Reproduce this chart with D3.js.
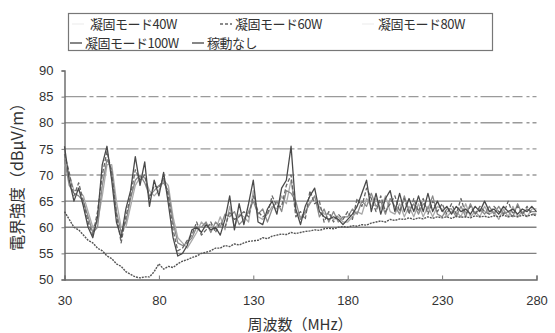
<!DOCTYPE html>
<html><head><meta charset="utf-8">
<script src="https://cdn.jsdelivr.net/npm/d3@7"></script>
<style>
html,body{margin:0;padding:0;background:#fff;}
svg{display:block;}
text{font-family:"Noto Sans CJK JP","Noto Sans",sans-serif;fill:#333;}
</style></head>
<body><svg id="c" width="555" height="333"></svg>
<script>
// frequency sample points (MHz)
const freqs = d3.range(30, 280.01, 2.5);
const yTicks = [50,55,60,65,70,75,80,85,90];
const xTicks = [30,80,130,180,230,280];
const seriesNames = ["凝固モード40W","凝固モード60W","凝固モード80W","凝固モード100W","稼動なし"];

const s40 = [73,68,66.5,66,65,62,59,60,68,73,
 71,63,59,61,65.5,69,70,68.5,66,67,
 68,68.5,67,61,57,56.5,57,58,60,60,
 61,59,61,60,62.5,62,63,60.5,61.5,63,
 65,62.5,63.5,61,63.5,65,63,67,66.5,65,
 61.5,63,64.5,66,62,63.5,61,63,61,62,
 62,63.5,62.5,65,64,66.5,64,65,62.5,65.5,
 64,62.5,66,63,64.5,62.5,64.5,63.5,66,62.5,
 62,63.5,63.5,62,64,62,64.5,62.5,63.5,62.5,
 64,62.5,64,62.5,63,62,64.5,62.5,63.5,63,
 63];
const s60 = [74,70.5,66,68.5,65,61,58.5,63,70,74.5,
 70.5,62.5,57,62,66,71,69,70,65.5,68,
 67.5,69.5,66,59.5,55.5,56,57.5,58.5,61,58.5,
 59.5,61,59,61,60,63,61.5,62,63,62,
 66,63,62,62.5,66,64,64,68,70,62,
 63,61.5,67,64.5,65,61,63,61,62.5,61.5,
 63,61.5,65.5,64,67.5,65.5,63,66,63,64.5,
 66,63,65.5,62.5,65.5,63,65.5,62.5,65,63,
 64.5,62.5,64.5,62.5,65.5,62.5,64,62.5,64,63,
 62.5,64,63,62.5,65,62.5,64,62.5,64,62.5,
 62.5];
const s80 = [72,70,67,67,66,63,60,61,66,72,
 72,65,60,60,64,68,69.5,69.5,67,66,
 67,69,68,62,58,57,56,57.5,59,61,
 60,60.5,59.5,62,59.5,64,60,62.5,62,61,
 67,62,61.5,62.5,64,63.5,66,64.5,69,63,
 62,62.5,65,65,64,62.5,62.5,61.5,62,61,
 61,62,63,62.5,65.5,64,65.5,63.5,66,63,
 62.5,64.5,62,64,62,64.5,62,64,62,64,
 63.5,62,63,63,62,64.5,62,63,62,64,
 62.5,63,61.5,63.5,62,64,62,63,62,63.5,
 63.5];
const s100 = [75.5,69,65,67.5,64,60,58,62,72,75.5,
 69,61,58,63.5,67,73.5,68,72.5,64,69,
 66,70.5,64.5,58,54.5,55,56.5,59.5,60,59,
 60.5,59.5,60,58.5,61.5,66,59.5,64.5,60.5,64.5,
 69,61,60.5,63.5,65,62.5,67.5,69,75.5,63.5,
 60.5,64,66,67.5,63,62,61.5,62,61.5,60.5,
 61.5,62.5,64,66.5,69,63,66.5,62.5,65.5,67,
 63,66.5,63,65.5,63,66,63,66.5,63,65,
 63,64,62.5,64,63,63.5,62.5,64,63,65,
 63,63.5,62.5,64,63,63.5,62.5,63.5,63,64,
 63];
const sOff = [63,61.5,60,59.5,58.5,57.5,57,56,55.5,54.5,
 54,53,52.5,51.5,51,50.5,50.3,50.5,50.5,51.5,
 53,52,52.5,52.3,53,53.5,53.8,54.2,54.5,55,
 55.2,55.5,56,56,56.5,56.3,56.8,56.6,57,57.3,
 57.4,57.5,58,57.8,58.3,58.5,58.7,58.6,59,58.8,
 59,59.2,59.3,59.5,59.4,59.7,59.8,59.7,60,60.1,
 60,60.3,60.2,60.5,60.4,60.8,61,61.2,61,61.5,
 61.3,61.6,61.5,61.8,61.5,61.8,61.6,62,61.7,62,
 61.8,62,61.7,62.1,61.9,62,61.8,62.2,62,62.1,
 61.9,62.2,62,62.3,62,62.2,62,62.3,62.1,62.4,
 62.2];

const svg = d3.select("#c");
const x = d3.scaleLinear().domain([30,280]).range([64.5,536.5]);
const y = d3.scaleLinear().domain([50,90]).range([279.5,70.5]);

// gridlines
const grid = svg.append("g");
yTicks.filter(v=>v>50 && v<90).forEach(v=>{
  const upper = v>=70;
  grid.append("line")
    .attr("x1",x(30)).attr("x2",x(280))
    .attr("y1",y(v)).attr("y2",y(v))
    .attr("stroke", upper ? "#9a9a9a" : "#808080")
    .attr("stroke-width",1.3)
    .attr("stroke-dasharray", upper ? "22,3,4,3,10,4,3,3" : null);
});

// axes
const yAxis = svg.append("g").attr("transform",`translate(${x(30)},0)`)
  .call(d3.axisLeft(y).tickValues(yTicks).tickSize(3).tickPadding(8));
const xAxis = svg.append("g").attr("transform",`translate(0,${y(50)})`)
  .call(d3.axisBottom(x).tickValues(xTicks).tickSize(-4).tickPadding(14));
[yAxis,xAxis].forEach(a=>{
  a.select(".domain").attr("stroke","#666").attr("stroke-width",1.4);
  a.selectAll(".tick line").attr("stroke","#777");
  a.selectAll("text").style("font-family","'Liberation Sans',Arial,sans-serif")
    .style("font-size","13px").attr("fill","#333");
});
xAxis.selectAll(".tick text").attr("dy","0.9em");

// series
const line = d3.line().x((d,i)=>x(freqs[i])).y(d=>y(d));
const styles = [
  {data:s80,  stroke:"#aaa", w:1.3, dash:null},
  {data:s40,  stroke:"#8a8a8a", w:1.3, dash:null},
  {data:s60,  stroke:"#666",    w:1.3, dash:"4,2"},
  {data:s100, stroke:"#4a4a4a", w:1.3, dash:null},
  {data:sOff, stroke:"#555",    w:1.4, dash:"2,1"}
];
styles.forEach(s=>{
  svg.append("path").datum(s.data).attr("d",line)
    .attr("fill","none").attr("stroke",s.stroke)
    .attr("stroke-width",s.w).attr("stroke-dasharray",s.dash)
    .attr("stroke-linejoin","round");
});

// legend
const lg = svg.append("g");
lg.append("rect").attr("x",68.5).attr("y",13.5).attr("width",424).attr("height",37)
  .attr("fill","#fff").attr("stroke","#777").attr("stroke-width",1.2);
const items = [
  {name:seriesNames[0], lx:72,  ly:24, tx:90,  ty:28.5, stroke:"#f0f0f0", dash:null},
  {name:seriesNames[1], lx:220, ly:24, tx:235, ty:28.5, stroke:"#666", dash:"3,2"},
  {name:seriesNames[2], lx:362, ly:24, tx:378, ty:28.5, stroke:"#f0f0f0", dash:null},
  {name:seriesNames[3], lx:70,  ly:43, tx:85,  ty:47.5, stroke:"#444", dash:null},
  {name:seriesNames[4], lx:192, ly:43, tx:207, ty:47.5, stroke:"#444", dash:null}
];
items.forEach(it=>{
  lg.append("line").attr("x1",it.lx).attr("x2",it.lx+12).attr("y1",it.ly).attr("y2",it.ly)
    .attr("stroke",it.stroke).attr("stroke-width",1.3).attr("stroke-dasharray",it.dash);
  lg.append("text").attr("x",it.tx).attr("y",it.ty)
    .style("font-size","13px").style("letter-spacing","-0.5px").text(it.name);
});

// axis titles
svg.append("text").attr("transform","translate(23,173) rotate(-90)")
  .attr("text-anchor","middle").style("font-size","16px").text("電界強度（dBμV/m）");
svg.append("text").attr("x",300).attr("y",330).attr("text-anchor","middle")
  .style("font-size","15px").text("周波数（MHz）");
</script></body></html>
